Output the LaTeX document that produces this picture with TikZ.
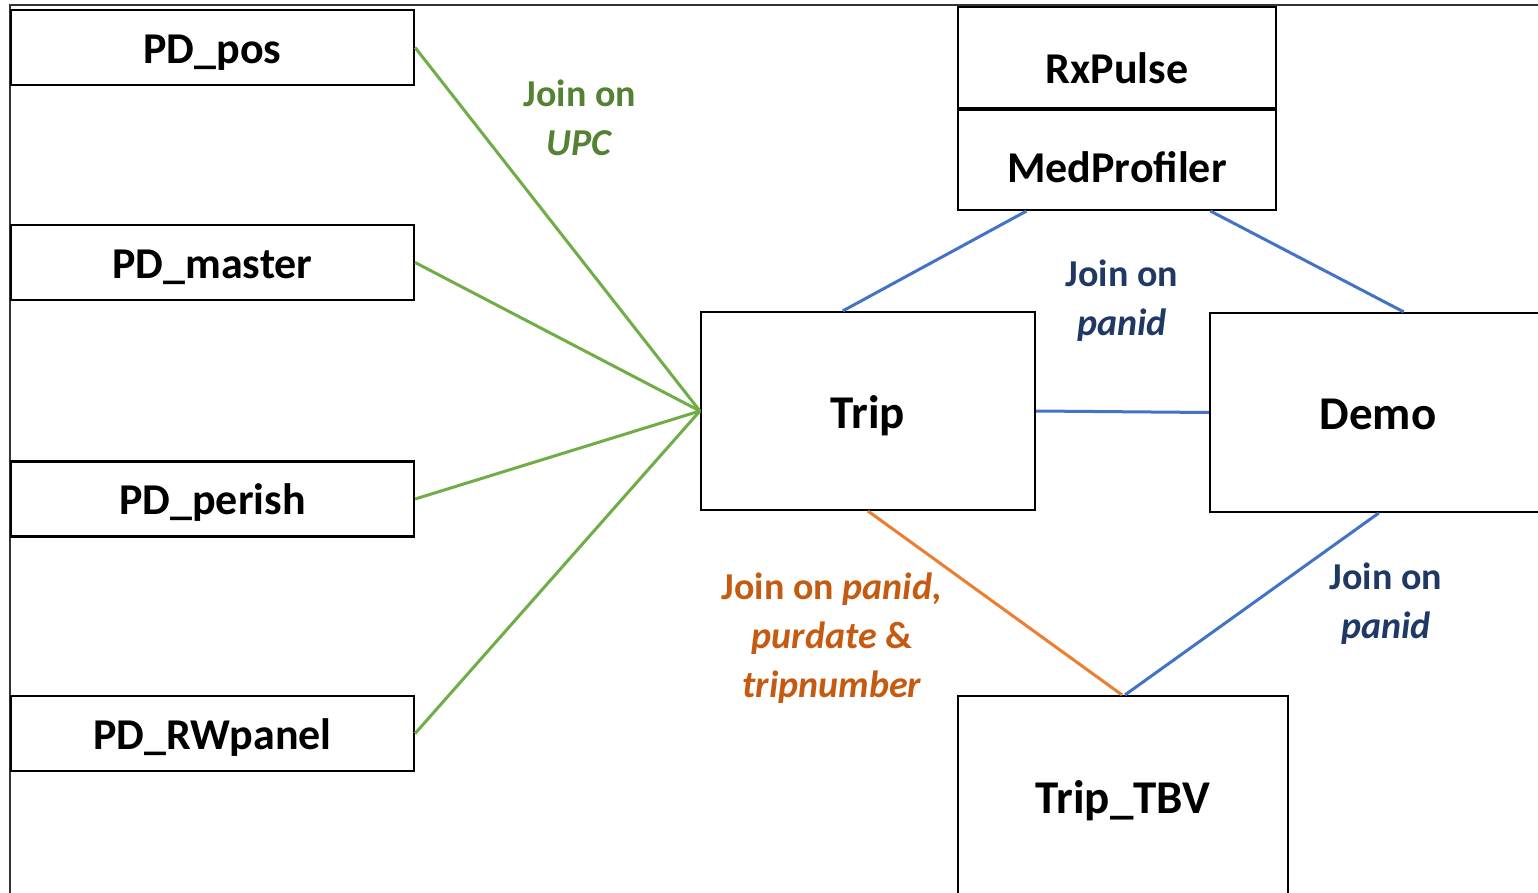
\documentclass[tikz,border=0pt]{standalone}
\usepackage{fontspec}
\setmainfont{Carlito}
\usetikzlibrary{calc}
\definecolor{gline}{HTML}{70AD47}
\definecolor{gtext}{HTML}{548235}
\definecolor{bline}{HTML}{4472C4}
\definecolor{btext}{HTML}{1F3864}
\definecolor{oline}{HTML}{ED7D31}
\definecolor{otext}{HTML}{C55A11}
\begin{document}
\begin{tikzpicture}[x=1pt,y=-1pt,
  box/.style={draw=black,line width=2.2pt,inner sep=0pt,fill=white,
    text height=32pt,text depth=0.5pt,
    font=\fontsize{44}{53}\selectfont\bfseries},
  bigbox/.style={box,text height=34pt,text depth=0pt,
    font=\fontsize{47}{56}\selectfont\bfseries},
  lab/.style={align=center,inner sep=0pt,
    font=\fontsize{38}{49}\selectfont\bfseries},
  gconn/.style={draw=gline,line width=3pt},
  bconn/.style={draw=bline,line width=3pt},
  oconn/.style={draw=oline,line width=3pt}]
\clip (0,0) rectangle (1538,893);
\fill[white] (0,0) rectangle (1538,893);
% frame
\coordinate (ftl) at (10,5);
\coordinate (ftr) at (1540,5);
\coordinate (fbl) at (10,895);
\draw[line width=2pt,black!80] (ftr) -- (ftl) -- (fbl);
% left boxes
\node[box,minimum width=403pt,minimum height=75pt] (pos) at (212.5,47.5) {PD\_pos};
\node[box,minimum width=403pt,minimum height=75pt] (master) at (212.5,262.5) {PD\_master};
\node[box,minimum width=403pt,minimum height=75pt] (perish) at (212.5,499) {PD\_perish};
\node[box,minimum width=403pt,minimum height=75pt] (rw) at (212.5,733.5) {PD\_RWpanel};
% right boxes
\node[box,minimum width=318pt,minimum height=101pt,text height=52pt,text depth=0pt] (rx) at (1117,57.5) {RxPulse};
\node[box,minimum width=318pt,minimum height=100pt,text height=46pt,text depth=0pt] (med) at (1117,160) {MedProfiler};
\node[bigbox,minimum width=334pt,minimum height=198pt] (trip) at (868,411) {Trip};
\node[bigbox,minimum width=336pt,minimum height=199pt] (demo) at (1378,412.5) {Demo};
\node[bigbox,minimum width=330pt,minimum height=200pt] (tbv) at (1123,796) {Trip\_TBV};
% green connectors
\draw[gconn] (pos.east) -- (trip.west);
\draw[gconn] (master.east) -- (trip.west);
\draw[gconn] (perish.east) -- (trip.west);
\draw[gconn] (rw.east) -- (trip.west);
% blue connectors
\draw[bconn] ($(med.south west)!0.217!(med.south east)$) -- ($(trip.north west)!0.425!(trip.north east)$);
\draw[bconn] ($(med.south west)!0.792!(med.south east)$) -- ($(demo.north west)!0.576!(demo.north east)$);
\draw[bconn] (trip.east) -- (demo.west);
\draw[bconn] ($(demo.south west)!0.502!(demo.south east)$) -- ($(tbv.north)+(2,0)$);
% orange connector
\draw[oconn] (trip.south) -- ($(tbv.north)+(-1,0)$);
% labels
\node[lab,text=gtext] (lupc) at (580,118) {Join on\\\textit{UPC}};
\node[lab,text=btext] (lpan1) at (1122,301) {Join on\\\textit{panid}};
\node[lab,text=btext] (lpan2) at (1386,604) {Join on\\\textit{panid}};
\node[lab,text=otext] (lorange) at (832,638) {Join on \textit{panid,}\\\textit{purdate} \&\\\textit{tripnumber}};
\end{tikzpicture}
\end{document}
